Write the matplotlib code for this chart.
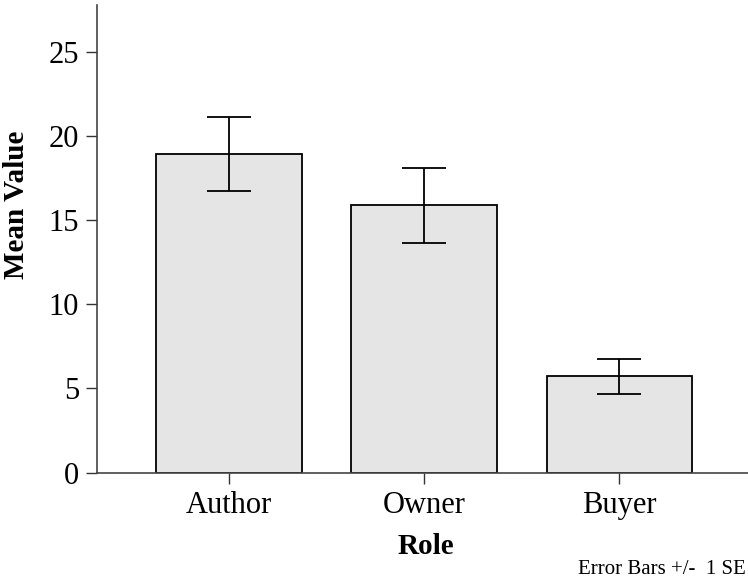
import numpy as np
import matplotlib.pyplot as plt

roles = ["Author", "Owner", "Buyer"]
means = [18.95, 15.9, 5.72]
se = [2.2, 2.23, 1.04]
yticks = [0, 5, 10, 15, 20, 25]

plt.rcParams['font.family'] = ['Liberation Serif', 'DejaVu Serif']

fig = plt.figure(figsize=(7.48, 5.84), dpi=100)
ax = fig.add_axes([97 / 748, (584 - 472.5) / 584, 651 / 748, 467.5 / 584])

x = np.arange(len(roles))
ax.bar(x, means, width=0.745, color='#e5e5e5', edgecolor='black', linewidth=1.3, zorder=2)
ax.errorbar(x, means, yerr=se, fmt='none', ecolor='black', elinewidth=1.3,
            capsize=16, capthick=1.3, zorder=3)

ax.set_xlim(-0.677, 2.66)
ax.set_ylim(0, 27.8)
ax.set_xticks(x)
ax.set_xticklabels(roles, fontsize=22)
ax.set_yticks(yticks)
ax.set_yticklabels([str(t) for t in yticks], fontsize=22)
ax.tick_params(direction='out', length=8, width=1, color='#333333', pad=5)

for side in ['top', 'right']:
    ax.spines[side].set_visible(False)
for side in ['left', 'bottom']:
    ax.spines[side].set_color('#444444')
    ax.spines[side].set_linewidth(1.2)

# axis titles placed by hand, the y one sits above the axis middle
fig.text(426 / 748, 1 - 547 / 584, "Role", fontsize=21, fontweight='bold',
         ha='center', va='center')
fig.text(17 / 748, 1 - 205 / 584, "Mean Value", fontsize=21, fontweight='bold',
         rotation=90, ha='center', va='center')

fig.text(746 / 748, 1 - 569 / 584, "Error Bars +/-  1 SE", fontsize=15,
         ha='right', va='center')

fig.savefig("out.png", dpi=100)
